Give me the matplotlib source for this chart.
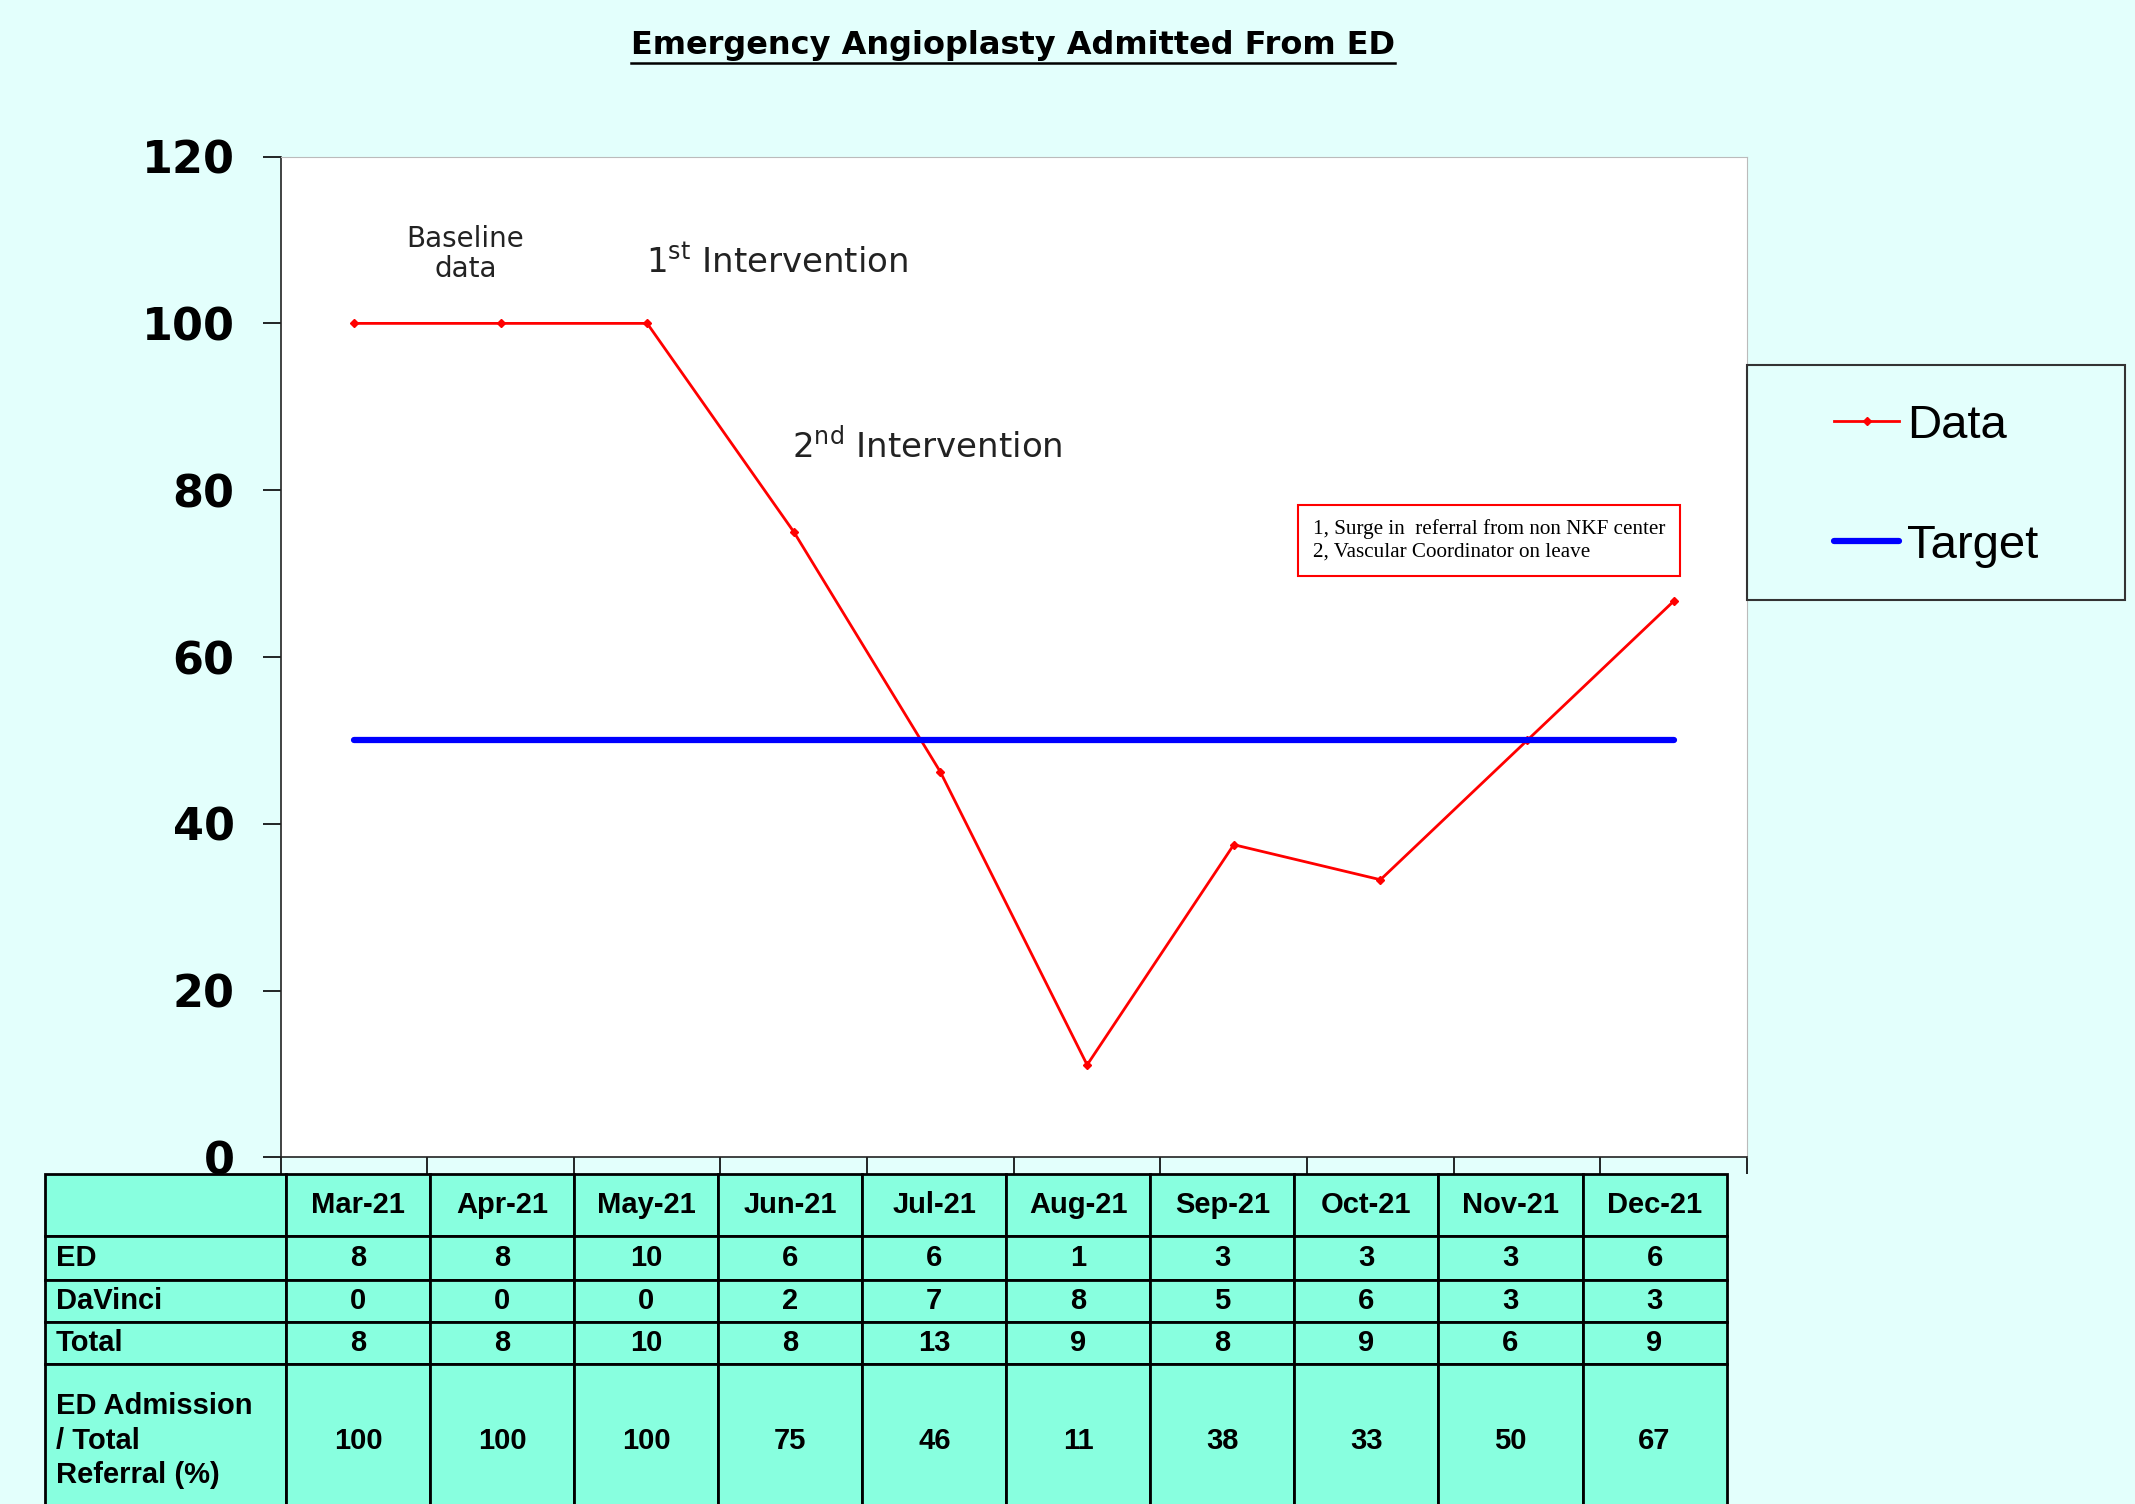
import matplotlib
matplotlib.use("Agg")
import matplotlib.pyplot as plt
from matplotlib.lines import Line2D
from matplotlib.patches import Rectangle
from matplotlib.table import Table

months = ["Mar-21", "Apr-21", "May-21", "Jun-21", "Jul-21",
          "Aug-21", "Sep-21", "Oct-21", "Nov-21", "Dec-21"]
ed = [8, 8, 10, 6, 6, 1, 3, 3, 3, 6]
davinci = [0, 0, 0, 2, 7, 8, 5, 6, 3, 3]
total = [8, 8, 10, 8, 13, 9, 8, 9, 6, 9]
pct_shown = [100, 100, 100, 75, 46, 11, 38, 33, 50, 67]
pct = [100, 100, 100, 75, 46.2, 11.1, 37.5, 33.3, 50, 66.7]
target = [50] * 10

BG = "#E3FFFC"
CELL = "#88FFDF"

fig = plt.figure(figsize=(21.35, 15.04), dpi=100, facecolor=BG)

# main plot
ax = fig.add_axes([0.1314, 0.2304, 0.6869, 0.6655])
ax.set_facecolor("white")
xs = [i + 0.5 for i in range(len(months))]
ax.plot(xs, pct, color="#FF0000", lw=2, marker="D", ms=4, label="Data")
ax.plot(xs, target, color="#0000FF", lw=4.5, solid_capstyle="round", label="Target")
ax.set_xlim(0, 10)
ax.set_ylim(0, 120)
ax.set_yticks(range(0, 121, 20))
ax.set_xticks(range(0, 11))
ax.tick_params(axis="x", length=12, width=1.2, labelbottom=False, direction="out")
ax.tick_params(axis="y", length=13, width=1.2, pad=20, labelsize=32)
plt.setp(ax.get_yticklabels(), fontweight="bold")
for s in ["top", "right"]:
    ax.spines[s].set_color("#BBBBBB")
for s in ["left", "bottom"]:
    ax.spines[s].set_color("#222222")
    ax.spines[s].set_linewidth(1.2)

# notes
ax.text(1.26, 108.3, "Baseline\ndata", ha="center", va="center", fontsize=20,
        linespacing=1.1, color="#222222")
ax.text(2.49, 107.3, r"1$^{\mathregular{st}}$ Intervention", ha="left", va="center",
        fontsize=24.5, color="#222222")
ax.text(3.49, 85.2, r"2$^{\mathregular{nd}}$ Intervention", ha="left", va="center",
        fontsize=24.5, color="#222222")
ax.text(7.04, 74.0, "1, Surge in  referral from non NKF center\n2, Vascular Coordinator on leave",
        ha="left", va="center", fontsize=15.2, family="Liberation Serif",
        bbox=dict(boxstyle="square,pad=0.7", fc="white", ec="#FF0000", lw=1.5))

# title with underline
title = fig.text(0.4745, 0.970, "Emergency Angioplasty Admitted From ED", ha="center",
                 va="center", fontsize=23, fontweight="bold")
fig.canvas.draw()
bb = title.get_window_extent().transformed(fig.transFigure.inverted())
fig.add_artist(Line2D([bb.x0, bb.x1], [0.9584, 0.9584], color="black", lw=1.8,
                      transform=fig.transFigure))

# legend
fig.add_artist(Rectangle((0.8183, 0.601), 0.177, 0.156, fill=False, ec="#333333",
                         lw=1.5, transform=fig.transFigure))
fig.legend(handles=ax.get_lines(), loc="center", bbox_to_anchor=(0.907, 0.677),
           bbox_transform=fig.transFigure, frameon=False,
           handlelength=1.38, handletextpad=0.17, labelspacing=1.6,
           prop={"family": "Liberation Sans", "size": 34})

# data table below the plot
tax = fig.add_axes([0.0211, -0.0085, 0.7876, 0.2281])
tax.axis("off")
tb = Table(tax, bbox=[0, 0, 1, 1])
row_names = ["", "ED", "DaVinci", "Total", "ED Admission\n/ Total\nReferral (%)"]
row_vals = [months, ed, davinci, total, pct_shown]
row_h = [46, 32, 31, 31, 112]
for r in range(5):
    c0 = tb.add_cell(r, 0, 177, row_h[r], text=row_names[r], loc="left",
                     facecolor=CELL, edgecolor="black")
    c0.PAD = 0.045
    for c in range(10):
        tb.add_cell(r, c + 1, 105.8, row_h[r], text=str(row_vals[r][c]), loc="center",
                    facecolor=CELL, edgecolor="black")
tb.auto_set_font_size(False)
tb.set_fontsize(21)
for cell in tb.get_celld().values():
    cell.set_linewidth(2)
    cell.get_text().set_fontweight("bold")
    cell.get_text().set_family("Liberation Sans")
    cell.get_text().set_linespacing(1.3)
tax.add_table(tb)

fig.savefig("out.png", dpi=100, facecolor=BG)
